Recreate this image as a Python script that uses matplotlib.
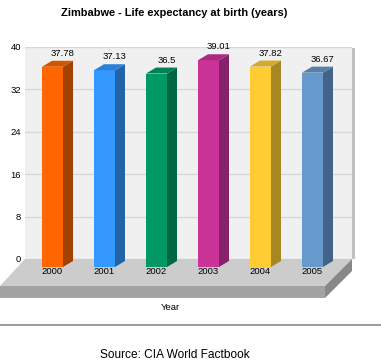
import matplotlib
matplotlib.use("Agg")
import matplotlib.pyplot as plt
import matplotlib.transforms as mtransforms
from matplotlib.patches import Polygon

plt.rcParams['font.family'] = ['Liberation Sans', 'DejaVu Sans']

# data
years = ['2000', '2001', '2002', '2003', '2004', '2005']
life_exp = [37.78, 37.13, 36.5, 39.01, 37.82, 36.67]
y_ticks = [0, 8, 16, 24, 32, 40]

front_cols = ['#ff6600', '#3399ff', '#009966', '#cc3399', '#ffcc33', '#6699cc']
side_cols = ['#a34200', '#2264a8', '#006644', '#86226a', '#a88622', '#426488']
top_cols = ['#d45500', '#2c80d8', '#008055', '#aa2a80', '#d4aa2a', '#5580ab']

W, H = 381, 363
fig = plt.figure(figsize=(W / 100, H / 100), dpi=100)
fig.patch.set_facecolor('white')

# background layer in pixel units (floor, separator, captions)
bg = fig.add_axes([0, 0, 1, 1], zorder=0)
bg.set_xlim(0, W)
bg.set_ylim(H, 0)
bg.axis('off')

# floor slab
bg.add_patch(Polygon([(25, 259), (352, 259), (325, 286), (0, 286)], closed=True,
                     fc='#cccccc', ec='none'))
bg.add_patch(Polygon([(0, 286), (325, 286), (325, 298), (0, 298)], closed=True,
                     fc='#a3a3a3', ec='none'))
bg.add_patch(Polygon([(325, 286), (352, 259), (352, 271), (325, 298)], closed=True,
                     fc='#888888', ec='none'))
# wall right edge
bg.add_patch(Polygon([(352, 48), (355, 48), (355, 259), (352, 259)], closed=True,
                     fc='#c0c0c0', ec='none'))
bg.plot([0, W], [324.5, 324.5], color='#8a8a8a', lw=1.2)

bg.text(174, 13, 'Zimbabwe - Life expectancy at birth (years)', ha='center', va='center',
        fontsize=7.9, fontweight='bold')
bg.text(170, 307, 'Year', ha='center', va='center', fontsize=6.8)
bg.text(174.5, 355, 'Source: CIA World Factbook', ha='center', va='center', fontsize=8.6)

# main axes = back wall
ax = fig.add_axes([25 / W, (H - 259) / H, 327 / W, 212 / H], zorder=1)
ax.set_facecolor('#f0f0f0')
ax.set_ylim(0, 40)
ax.set_xlim(-37.5 / 52, (327 - 37.5) / 52)
ax.set_yticks(y_ticks)
ax.set_yticklabels([str(t) for t in y_ticks])
ax.set_xticks([])
ax.tick_params(axis='y', length=0, pad=3, labelsize=6.8)
ax.yaxis.grid(True, color='#d8d8d8', lw=1)
ax.set_axisbelow(True)
for s in ax.spines.values():
    s.set_visible(False)


def shift(px, py):
    return ax.transData + mtransforms.ScaledTranslation(px / 100, py / 100, fig.dpi_scale_trans)


front = shift(-10, -8)
bw = 21 / 52           # front face width in category units
ddx = 10 / 52          # depth in x (data units)
ddy = 6 / 5.3          # depth in y (data units)

xs = list(range(len(years)))
ax.bar(xs, life_exp, width=bw, color=front_cols, transform=front, clip_on=False, zorder=3)
for i, v in enumerate(life_exp):
    r = i + bw / 2
    l = i - bw / 2
    ax.add_patch(Polygon([(r, 0), (r + ddx, ddy), (r + ddx, v + ddy), (r, v)], closed=True,
                         fc=side_cols[i], ec='none', transform=front, clip_on=False, zorder=3))
    ax.add_patch(Polygon([(l, v), (r, v), (r + ddx, v + ddy), (l + ddx, v + ddy)], closed=True,
                         fc=top_cols[i], ec='none', transform=front, clip_on=False, zorder=3))
    ax.text(i, v, f'{v:g}', ha='center', va='bottom', fontsize=6.8,
            transform=shift(0, 1), clip_on=False)
    ax.text(i, 0, years[i], ha='center', va='center', fontsize=6.8,
            transform=shift(-10, -13), clip_on=False)

fig.savefig('out.png', dpi=100)
